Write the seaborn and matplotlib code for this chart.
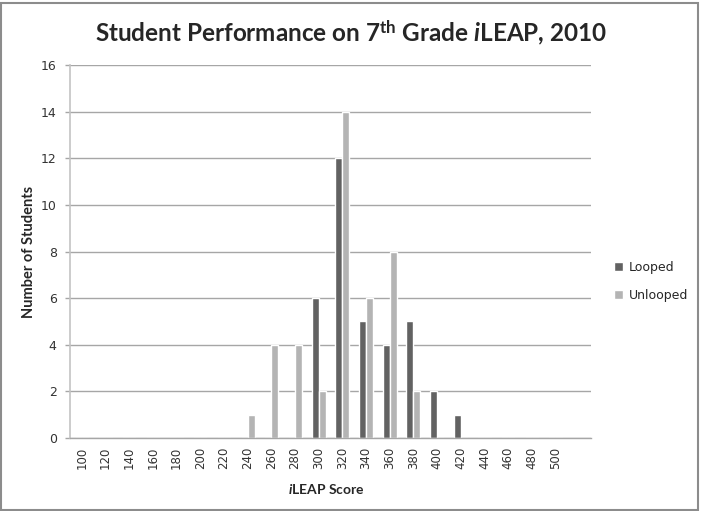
import matplotlib
matplotlib.use("Agg")
import matplotlib.pyplot as plt
import seaborn as sns
import pandas as pd
from matplotlib.patches import Rectangle

categories = ["100", "120", "140", "160", "180", "200", "220", "240", "260", "280", "300",
              "320", "340", "360", "380", "400", "420", "440", "460", "480", "500"]
looped = [0, 0, 0, 0, 0, 0, 0, 0, 0, 0, 6, 12, 5, 4, 5, 2, 1, 0, 0, 0, 0]
unlooped = [0, 0, 0, 0, 0, 0, 0, 1, 4, 4, 2, 14, 6, 8, 2, 0, 0, 0, 0, 0, 0]
series_names = ["Looped", "Unlooped"]
colors = ["#626262", "#b4b4b4"]
y_ticks = [0, 2, 4, 6, 8, 10, 12, 14, 16]

df = pd.DataFrame({
    "score": categories * 2,
    "count": looped + unlooped,
    "group": [series_names[0]] * len(categories) + [series_names[1]] * len(categories),
})

sns.set_theme(style="white")
plt.rcParams["font.family"] = ["Lato", "DejaVu Sans"]
plt.rcParams["mathtext.fontset"] = "custom"
plt.rcParams["mathtext.rm"] = "Lato"
plt.rcParams["mathtext.bf"] = "Lato:bold"
plt.rcParams["mathtext.it"] = "Lato:italic"
plt.rcParams["mathtext.bfit"] = "Lato:bold:italic"

W, H = 702, 511
fig = plt.figure(figsize=(W / 100, H / 100), dpi=100)
ax = fig.add_axes([70 / W, 1 - 438 / H, (591 - 70) / W, (438 - 65) / H])

sns.barplot(data=df, x="score", y="count", hue="group", order=categories,
            hue_order=series_names, palette=colors, width=0.6, saturation=1,
            ax=ax, legend=True)

tick_font = ["DejaVu Sans"]
ax.set_xlim(-0.5, len(categories) + 0.5)
ax.set_ylim(0, 16)
ax.set_yticks(y_ticks)
ax.set_yticklabels([str(t) for t in y_ticks], fontsize=9, color="#333333", family=tick_font)
ax.set_xticks(range(len(categories)))
ax.set_xticklabels(categories, rotation=90, fontsize=8.5, color="#333333", family=tick_font)
ax.yaxis.grid(True, color="#a6a6a6", linewidth=1)
ax.set_axisbelow(True)
ax.tick_params(axis="y", which="both", left=True, length=3.6, color="#a6a6a6", width=1, pad=6)
ax.tick_params(axis="x", bottom=False, length=0, pad=6.5)
for side in ["top", "right"]:
    ax.spines[side].set_visible(False)
ax.spines["left"].set_color("#c4c4c4")
ax.spines["bottom"].set_color("#a6a6a6")
ax.spines["left"].set_linewidth(1.2)
ax.spines["bottom"].set_linewidth(1)

ax.set_xlabel(r"$\mathbfit{i}$LEAP Score", fontsize=10, fontweight="bold")
ax.set_ylabel("Number of Students", fontsize=10.5, fontweight="bold")
ax.xaxis.set_label_coords((326 - 70) / 521, (438 - 482) / 373)
ax.yaxis.set_label_coords((36 - 70) / 521, 0.5)

fig.text(0.5, 1 - 33 / H, r"Student Performance on 7$^{\mathbf{th}}$ Grade $\mathbfit{i}$LEAP, 2010",
         ha="center", va="center", fontsize=17.5, fontweight="bold")

leg = ax.legend(loc="center left", bbox_to_anchor=(614 / W, 1 - 281.5 / H),
                bbox_transform=fig.transFigure, frameon=False,
                prop={"family": tick_font, "size": 9},
                handlelength=0.7, handleheight=0.7, handletextpad=0.45,
                labelspacing=1.2, borderpad=0, borderaxespad=0)

fig.patches.append(Rectangle((0.002, 0.002), 0.993, 0.993, transform=fig.transFigure,
                             fill=False, edgecolor="#8c8c8c", linewidth=1.5))

fig.savefig("out.png", dpi=100)
